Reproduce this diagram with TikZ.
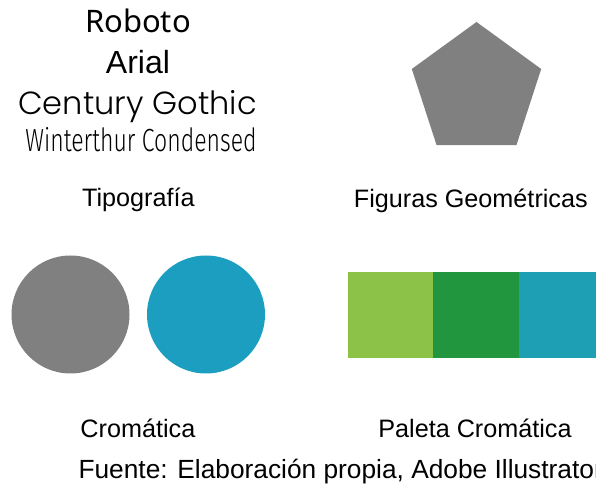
\documentclass[tikz,border=0pt]{standalone}
\usepackage{fontspec}
\setmainfont{Liberation Sans}
\newfontfamily\robotofont{Noto Sans}
\newfontfamily\gothicfont{Poppins Light}
\newfontfamily\condfont{Fira Sans Light}[FakeStretch=0.72]
\usetikzlibrary{shapes.geometric}

\definecolor{figgray}{HTML}{808080}
\definecolor{cromblue}{HTML}{1B9EC0}
\definecolor{pallight}{HTML}{8CC247}
\definecolor{palgreen}{HTML}{22963E}
\definecolor{palteal}{HTML}{1E9FB4}

\begin{document}
\begin{tikzpicture}[x=1pt, y=1pt,
  caption/.style={anchor=base, inner sep=0pt, font=\fontsize{25.2}{29}\selectfont},
  sample/.style={anchor=base, inner sep=0pt},
  swatch/.style={fill=#1, draw=none}]

\useasboundingbox (0,0) rectangle (596,486);
\clip (0,0) rectangle (596,486);

% Font samples and their caption
\node[sample, font=\robotofont\fontsize{31}{35}\selectfont] (roboto) at (138,453) {Roboto};
\node[sample, font=\fontsize{32}{36}\selectfont] (arial) at (138,412) {Arial};
\node[sample, font=\gothicfont\fontsize{32}{36}\selectfont] (gothic) at (137.5,371) {Century Gothic};
\node[sample, font=\condfont\fontsize{32}{36}\selectfont] (winter) at (141,334.3) {Winterthur Condensed};
\node[caption] (tipo) at (138.3,279.3) {Tipografía};

% Pentagon and its caption
\node[regular polygon, regular polygon sides=5, minimum size=136pt, inner sep=0pt,
  outer sep=0pt, fill=figgray] (penta) at (476.5,396) {};
\node[caption] (figuras) at (470.8,278.7) {Figuras Geométricas};

% The two colour circles
\fill[figgray] (70.5,171.5) circle (59);
\fill[cromblue] (206,171.5) circle (59);
\node[caption] (croma) at (137.9,48.7) {Cromática};

% Palette of three swatches
\draw[swatch=pallight] (348,128) rectangle (433,214);
\draw[swatch=palgreen] (433,128) rectangle (519,214);
\draw[swatch=palteal] (519,128) rectangle (605,214);
\node[caption] (paleta) at (475,48.7) {Paleta Cromática};

% Source line
\node[caption, anchor=base west, font=\fontsize{26.3}{30}\selectfont] (fuente) at (78.3,7.7) {Fuente: Elaboración propia, Adobe Illustrator};

\end{tikzpicture}
\end{document}
